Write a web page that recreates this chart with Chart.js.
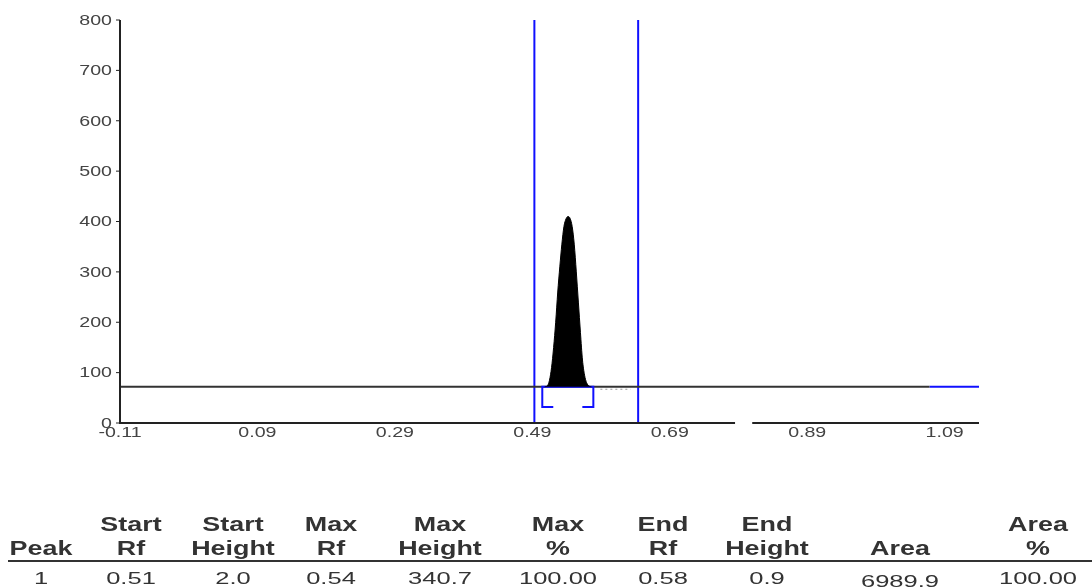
<!DOCTYPE html>
<html>
<head>
<meta charset="utf-8">
<script src="https://cdn.jsdelivr.net/npm/chart.js@4"></script>
<style>
  html, body { margin: 0; padding: 0; background: #fff; width: 1092px; height: 587px; overflow: hidden; }
  #c { position: absolute; left: 0; top: 0; }
  #table { position: absolute; left: 0; top: 0; width: 1092px; height: 587px; font-family: "Liberation Sans", Arial, sans-serif; color: #333; }
  .cell { position: absolute; font-size: 21px; line-height: 21px; white-space: nowrap; transform: translateX(-50%) scaleX(1.28); }
  .hd { font-weight: bold; }
  .val { font-size: 17px; line-height: 17px; transform: translateX(-50%) scaleX(1.5); }
  #rule { position: absolute; left: 8px; top: 560px; width: 1084px; height: 2px; background: #333; }
</style>
</head>
<body>
<canvas id="c" width="1092" height="460"></canvas>
<div id="table"><div id="rule"></div></div>
<script>
// Densitogram values
const xTicks = [-0.11, 0.09, 0.29, 0.49, 0.69, 0.89, 1.09];
const yTicks = [0, 100, 200, 300, 400, 500, 600, 700, 800];

const peakRf = [0.508, 0.512, 0.515, 0.518, 0.521, 0.524, 0.527, 0.530, 0.533, 0.536, 0.539, 0.542,
  0.545, 0.548, 0.551, 0.554, 0.557, 0.560, 0.563, 0.566, 0.569, 0.573, 0.576];
const peakSignal = [72, 74, 85, 110, 150, 200, 260, 310, 355, 390, 405, 410,
  406, 390, 355, 300, 240, 180, 125, 95, 80, 73, 72];

const baselineLevel = 72;
const baselineRf = [-0.11, 1.068];
const blueTailRf = [1.068, 1.14];
const windowRf = [0.493, 0.644];
const bracketRf = [0.5205, 0.5045, 0.5045, 0.5788, 0.5788, 0.5628];
const bracketSignal = [32, 32, 72, 72, 32, 32];
const dottedRf = [0.589, 0.633];
const dottedLevel = 67;
const axisBreak = [0.785, 0.81];

// Peak table
const tableHead1 = ["", "Start", "Start", "Max", "Max", "Max", "End", "End", "", "Area"];
const tableHead2 = ["Peak", "Rf", "Height", "Rf", "Height", "%", "Rf", "Height", "Area", "%"];
const peakRow = ["1", "0.51", "2.0", "0.54", "340.7", "100.00", "0.58", "0.9", "6989.9", "100.00"];
const colX = [41, 131, 233, 331, 440, 558, 663, 767, 900, 1038];

const table = document.getElementById("table");
function addCell(text, x, top, cls) {
  if (!text) return;
  const el = document.createElement("span");
  el.className = "cell " + cls;
  el.textContent = text;
  el.style.left = x + "px";
  el.style.top = top + "px";
  table.appendChild(el);
}
colX.forEach((x, i) => {
  addCell(tableHead1[i], x, 513, "hd");
  addCell(tableHead2[i], x, 537, "hd");
  addCell(peakRow[i], x, peakRow[i] === "6989.9" ? 573 : 570, "val");
});

const blue = "#1010ff";
const pts = (xs, ys) => xs.map((x, i) => ({ x: x, y: Array.isArray(ys) ? ys[i] : ys }));

function drawStretched(ctx, text, x, y, align) {
  ctx.save();
  ctx.translate(x, y);
  ctx.scale(1.4, 1);
  ctx.textAlign = align;
  ctx.fillText(text, 0, 0);
  ctx.restore();
}

const axesPlugin = {
  id: "axes",
  afterDatasetsDraw(chart) {
    const { ctx, chartArea } = chart;
    const x = chart.scales.x, y = chart.scales.y;
    const y0 = y.getPixelForValue(0);
    ctx.save();
    ctx.strokeStyle = "#222";
    ctx.lineWidth = 2;
    ctx.beginPath();
    ctx.moveTo(chartArea.left, chartArea.top);
    ctx.lineTo(chartArea.left, y0 + 1);
    ctx.stroke();

    // x axis has a break in it
    ctx.beginPath();
    ctx.moveTo(chartArea.left, y0);
    ctx.lineTo(x.getPixelForValue(axisBreak[0]), y0);
    ctx.moveTo(x.getPixelForValue(axisBreak[1]), y0);
    ctx.lineTo(chartArea.right, y0);
    ctx.stroke();

    ctx.lineWidth = 1;
    ctx.fillStyle = "#444";
    ctx.font = '14px "Liberation Sans", Arial, sans-serif';
    ctx.textBaseline = "middle";
    yTicks.forEach(v => {
      const py = y.getPixelForValue(v);
      ctx.beginPath();
      ctx.moveTo(chartArea.left - 4, py);
      ctx.lineTo(chartArea.left, py);
      ctx.stroke();
      drawStretched(ctx, String(v), chartArea.left - 8, py + 1, "right");
    });

    ctx.textBaseline = "top";
    xTicks.forEach(v => {
      drawStretched(ctx, v.toFixed(2), x.getPixelForValue(v), y0 + 3, "center");
    });
    ctx.restore();
  }
};

new Chart(document.getElementById("c"), {
  type: "line",
  data: {
    datasets: [
      {
        label: "Peak",
        data: pts(peakRf, peakSignal),
        borderColor: "#000",
        backgroundColor: "#000",
        borderWidth: 1,
        fill: { value: baselineLevel },
        cubicInterpolationMode: "monotone"
      },
      {
        label: "Integration",
        data: pts(bracketRf, bracketSignal),
        borderColor: blue,
        borderWidth: 2
      },
      {
        label: "Baseline",
        data: pts(baselineRf, baselineLevel),
        borderColor: "#333",
        borderWidth: 2
      },
      {
        label: "Baseline tail",
        data: pts(blueTailRf, baselineLevel),
        borderColor: blue,
        borderWidth: 2
      },
      {
        label: "Dotted",
        data: pts(dottedRf, dottedLevel),
        borderColor: "#999",
        borderWidth: 1,
        borderDash: [2, 3]
      },
      {
        label: "Start window",
        data: pts([windowRf[0], windowRf[0]], [0, 800]),
        borderColor: blue,
        borderWidth: 2
      },
      {
        label: "End window",
        data: pts([windowRf[1], windowRf[1]], [0, 800]),
        borderColor: blue,
        borderWidth: 2
      }
    ]
  },
  options: {
    responsive: false,
    animation: false,
    devicePixelRatio: 1,
    layout: { padding: { left: 120, right: 113, top: 20, bottom: 37 } },
    elements: { point: { radius: 0, hoverRadius: 0 } },
    plugins: { legend: { display: false }, tooltip: { enabled: false } },
    scales: {
      x: { type: "linear", min: -0.11, max: 1.14, display: false },
      y: { type: "linear", min: 0, max: 800, display: false }
    }
  },
  plugins: [axesPlugin]
});
</script>
</body>
</html>
